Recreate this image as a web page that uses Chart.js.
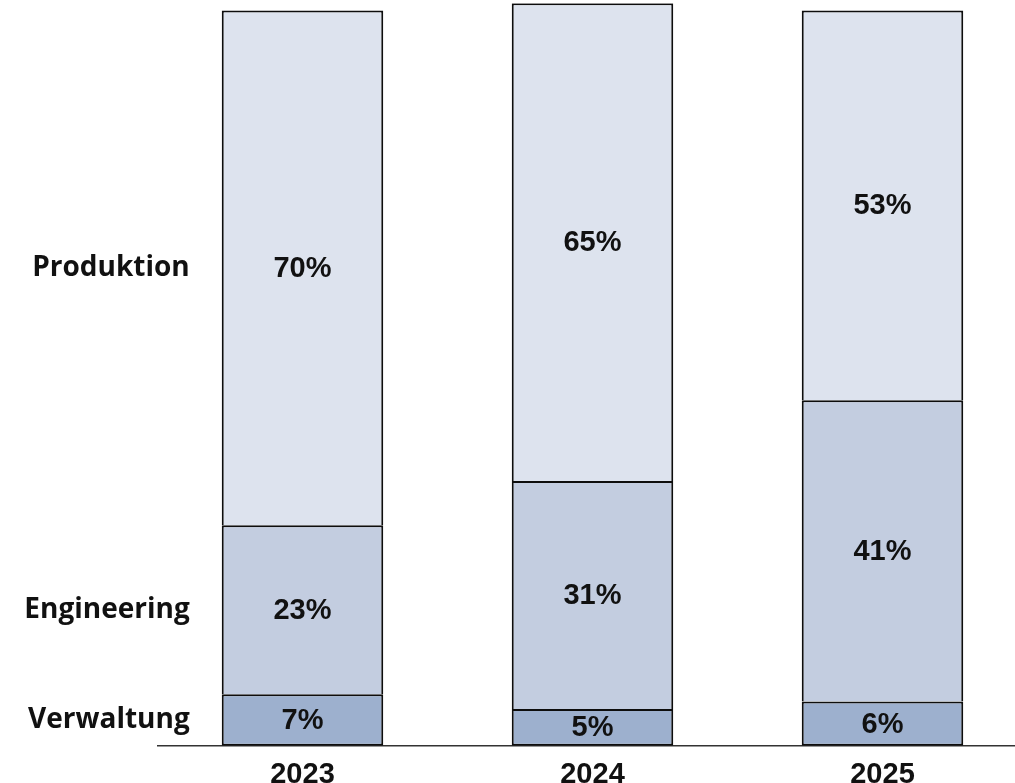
<!DOCTYPE html>
<html>
<head>
<meta charset="utf-8">
<script src="https://cdn.jsdelivr.net/npm/chart.js@4/dist/chart.umd.min.js"></script>
<style>
  html, body { margin: 0; padding: 0; overflow: hidden; background: #ffffff; }
  #wrap { position: absolute; left: 0; top: 0; width: 1040px; height: 783px; }
</style>
</head>
<body>
<div id="wrap"><canvas id="chart"></canvas></div>
<script>
// Headcount share by department (%)
const years = ['2023', '2024', '2025'];
const verwaltung = [7, 5, 6];
const engineering = [23, 31, 41];
const produktion = [70, 65, 53];

const seriesNames = ['Verwaltung', 'Engineering', 'Produktion'];
const seriesColors = ['#9db0ce', '#c3cde0', '#dde3ee'];

// Percent text in the middle of every segment
const segmentLabels = {
  id: 'segmentLabels',
  afterDatasetsDraw(chart) {
    const ctx = chart.ctx;
    ctx.save();
    ctx.font = 'bold 29px "Liberation Sans", Arial, sans-serif';
    ctx.fillStyle = '#111111';
    ctx.textAlign = 'center';
    ctx.textBaseline = 'middle';
    chart.data.datasets.forEach((ds, di) => {
      const meta = chart.getDatasetMeta(di);
      meta.data.forEach((bar, i) => {
        const p = bar.getProps(['x', 'y', 'base'], true);
        ctx.fillText(ds.data[i] + '%', p.x, (p.y + p.base) / 2 + 1);
      });
    });
    ctx.restore();
  }
};

// Department names to the left of the first column
const seriesNamesLeft = {
  id: 'seriesNamesLeft',
  afterDatasetsDraw(chart) {
    const ctx = chart.ctx;
    ctx.save();
    ctx.font = 'bold 28px "Open Sans", sans-serif';
    ctx.fillStyle = '#111111';
    ctx.textAlign = 'right';
    ctx.textBaseline = 'middle';
    chart.data.datasets.forEach((ds, di) => {
      const bar = chart.getDatasetMeta(di).data[0];
      const p = bar.getProps(['x', 'y', 'base', 'width'], true);
      ctx.fillText(ds.label, p.x - p.width / 2 - 32, (p.y + p.base) / 2);
    });
    ctx.restore();
  }
};

const seriesData = [verwaltung, engineering, produktion];

new Chart(document.getElementById('chart'), {
  type: 'bar',
  data: {
    labels: years,
    datasets: seriesNames.map((name, k) => ({
      label: name,
      data: seriesData[k],
      backgroundColor: seriesColors[k],
      borderColor: '#0d0d0d',
      borderWidth: 2,
      borderSkipped: k === 0 ? false : 'start',
      barPercentage: 0.557,
      categoryPercentage: 1.0
    }))
  },
  options: {
    responsive: true,
    maintainAspectRatio: false,
    animation: false,
    layout: { padding: { left: 157.5, right: 12.5, top: 3.15, bottom: 0 } },
    plugins: {
      legend: { display: false },
      tooltip: { enabled: false }
    },
    scales: {
      x: {
        stacked: true,
        grid: { display: false },
        border: { display: true, color: '#333333', width: 1.5 },
        afterFit(scale) { scale.height = 37.3; },
        ticks: {
          padding: 6.5,
          color: '#111111',
          font: { family: '"Liberation Sans", Arial, sans-serif', size: 29, weight: 'bold', lineHeight: 1 }
        }
      },
      y: {
        stacked: true,
        display: false,
        min: 0,
        max: 101
      }
    }
  },
  plugins: [segmentLabels, seriesNamesLeft]
});
</script>
</body>
</html>
